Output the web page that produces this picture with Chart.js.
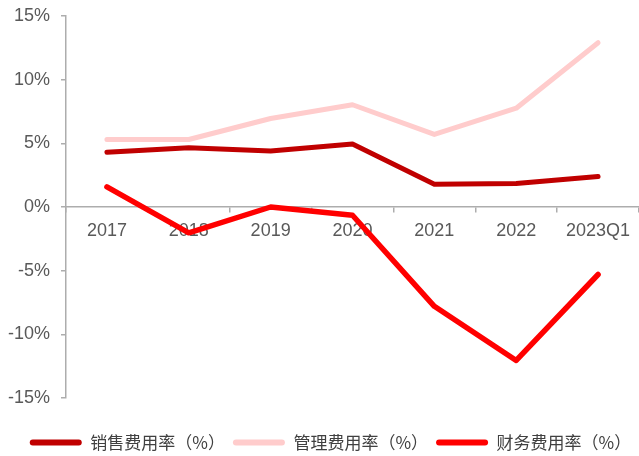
<!DOCTYPE html>
<html>
<head>
<meta charset="utf-8">
<script src="https://cdn.jsdelivr.net/npm/chart.js@4/dist/chart.umd.min.js"></script>
<style>
  html, body { margin: 0; padding: 0; background: #fff; }
  #wrap { width: 639px; height: 456px; }
</style>
</head>
<body>
<div id="wrap"><canvas id="myChart"></canvas></div>
<script>
// 数据
const categories = ['2017', '2018', '2019', '2020', '2021', '2022', '2023Q1'];
const salesRate = [4.3, 4.65, 4.4, 4.95, 1.78, 1.85, 2.4];
const adminRate = [5.3, 5.3, 6.95, 8.03, 5.7, 7.76, 12.9];
const financeRate = [1.58, -2.03, 0.0, -0.65, -7.8, -12.05, -5.3];
const yTicks = [-15, -10, -5, 0, 5, 10, 15];

const seriesNames = ['销售费用率（%）', '管理费用率（%）', '财务费用率（%）'];
const seriesColors = ['#C00000', '#FFCCCC', '#FF0000'];

const axisColor = '#ADADAD';
const textColor = '#595959';

// 图例：固定高度，绘制时下移
const legendShift = {
    id: 'legendShift',
    afterInit(chart) {
        const lg = chart.legend;
        const origFit = lg.fit.bind(lg);
        lg.fit = function () { origFit(); this.height = 58; };
    },
    afterLayout(chart) {
        const lg = chart.legend;
        lg.top += 28; lg.bottom += 28;
        lg.left += 11; lg.right += 11;
    }
};

const ctx = document.getElementById('myChart').getContext('2d');
const myChart = new Chart(ctx, {
    type: 'line',
    data: {
        labels: categories,
        datasets: [salesRate, adminRate, financeRate].map((d, i) => ({
            label: seriesNames[i],
            data: d,
            borderColor: seriesColors[i],
            backgroundColor: seriesColors[i],
            borderWidth: i === 2 ? 5.5 : 5,
            borderCapStyle: 'round',
            borderJoinStyle: 'round',
            pointRadius: 0,
            tension: 0,
            fill: false
        }))
    },
    plugins: [legendShift],
    options: {
        responsive: true,
        maintainAspectRatio: false,
        animation: false,
        layout: {
            padding: { top: 16, right: 0, bottom: 0, left: 0 }
        },
        scales: {
            x: {
                position: { y: 0 },
                offset: true,
                grid: {
                    display: true,
                    drawOnChartArea: false,
                    drawTicks: true,
                    tickLength: 5,
                    offset: true,
                    color: axisColor,
                    lineWidth: 1.5
                },
                border: { color: axisColor, width: 1.5 },
                ticks: {
                    color: textColor,
                    font: { family: 'Liberation Sans, Arial', size: 18 },
                    padding: 8,
                    maxRotation: 0
                }
            },
            y: {
                min: -15,
                max: 15,
                afterFit: (scale) => { scale.width = 66; scale.paddingTop = 0; },
                afterBuildTicks: (scale) => {
                    scale.ticks = yTicks.map(v => ({ value: v }));
                },
                grid: {
                    display: true,
                    drawOnChartArea: false,
                    drawTicks: true,
                    tickLength: 5,
                    color: axisColor,
                    lineWidth: 1.5
                },
                border: { color: axisColor, width: 1.5 },
                ticks: {
                    color: textColor,
                    font: { family: 'Liberation Sans, Arial', size: 18 },
                    padding: 11,
                    callback: (v) => v + '%'
                }
            }
        },
        plugins: {
            legend: {
                display: true,
                position: 'bottom',
                labels: {
                    boxWidth: 52,
                    boxHeight: 6,
                    padding: 8,
                    color: '#404040',
                    font: { family: 'Noto Sans CJK SC', size: 17 },
                    useBorderRadius: true,
                    borderRadius: 3,
                    generateLabels: (chart) => {
                        return Chart.defaults.plugins.legend.labels.generateLabels(chart).map(item => {
                            item.lineWidth = 0;
                            item.fillStyle = seriesColors[item.datasetIndex];
                            item.strokeStyle = seriesColors[item.datasetIndex];
                            return item;
                        });
                    }
                }
            },
            tooltip: { enabled: false }
        }
    }
});
</script>
</body>
</html>
